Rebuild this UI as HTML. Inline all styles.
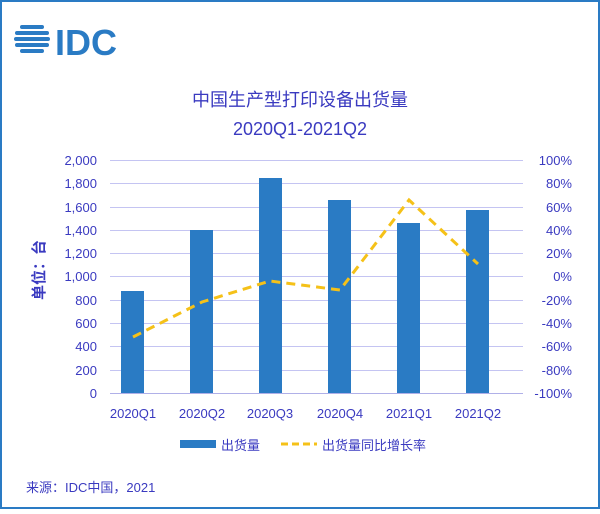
<!DOCTYPE html>
<html><head><meta charset="utf-8"><style>
body{margin:0;background:#fff}
</style></head><body>
<svg width="600" height="509" xmlns="http://www.w3.org/2000/svg" font-family="Liberation Sans, Noto Sans CJK SC, sans-serif">
<rect x="1" y="1" width="598" height="507" fill="#fff" stroke="#2a7bc4" stroke-width="2"/>
<g fill="#2a7bc4">
<rect x="20" y="25" width="24" height="4" rx="2"/>
<rect x="15" y="31" width="34" height="4" rx="2"/>
<rect x="14" y="37" width="36" height="4" rx="2"/>
<rect x="15" y="43" width="34" height="4" rx="2"/>
<rect x="20" y="49" width="24" height="4" rx="2"/>
</g>
<text x="55" y="55" font-size="36" font-weight="bold" fill="#2a7bc4">IDC</text>
<text x="300" y="106" text-anchor="middle" font-size="18" fill="#3a3ac0">中国生产型打印设备出货量</text>
<text x="300" y="135" text-anchor="middle" font-size="18" fill="#3a3ac0">2020Q1-2021Q2</text>
<g stroke="#c4c4f2" stroke-width="1">
<line x1="110" x2="523" y1="160.5" y2="160.5"/><line x1="110" x2="523" y1="183.5" y2="183.5"/>
<line x1="110" x2="523" y1="207.5" y2="207.5"/><line x1="110" x2="523" y1="230.5" y2="230.5"/>
<line x1="110" x2="523" y1="253.5" y2="253.5"/><line x1="110" x2="523" y1="276.5" y2="276.5"/>
<line x1="110" x2="523" y1="300.5" y2="300.5"/><line x1="110" x2="523" y1="323.5" y2="323.5"/>
<line x1="110" x2="523" y1="346.5" y2="346.5"/><line x1="110" x2="523" y1="370.5" y2="370.5"/>
<line x1="110" x2="523" y1="393.5" y2="393.5" stroke="#b0b0e8"/>
</g>
<g font-size="13" fill="#3a3ac0" text-anchor="end">
<text x="97" y="165">2,000</text><text x="97" y="188">1,800</text><text x="97" y="212">1,600</text>
<text x="97" y="235">1,400</text><text x="97" y="258">1,200</text><text x="97" y="281">1,000</text>
<text x="97" y="305">800</text><text x="97" y="328">600</text><text x="97" y="351">400</text>
<text x="97" y="375">200</text><text x="97" y="398">0</text>
</g>
<g font-size="13" fill="#3a3ac0" text-anchor="end">
<text x="572" y="165">100%</text><text x="572" y="188">80%</text><text x="572" y="212">60%</text>
<text x="572" y="235">40%</text><text x="572" y="258">20%</text><text x="572" y="281">0%</text>
<text x="572" y="305">-20%</text><text x="572" y="328">-40%</text><text x="572" y="351">-60%</text>
<text x="572" y="375">-80%</text><text x="572" y="398">-100%</text>
</g>
<text transform="translate(44,270) rotate(-90)" text-anchor="middle" font-size="15" font-weight="bold" fill="#3a3ac0">单位：台</text>
<g fill="#2a7bc4">
<rect x="121" y="291" width="23" height="102"/>
<rect x="190" y="230" width="23" height="163"/>
<rect x="259" y="178" width="23" height="215"/>
<rect x="328" y="200" width="23" height="193"/>
<rect x="397" y="223" width="23" height="170"/>
<rect x="466" y="210" width="23" height="183"/>
</g>
<polyline points="133,337 202,302 270,281 340,290 409,200 478,264" fill="none" stroke="#f5c118" stroke-width="3" stroke-dasharray="9,6"/>
<g font-size="13" fill="#3a3ac0" text-anchor="middle">
<text x="133" y="418">2020Q1</text><text x="202" y="418">2020Q2</text><text x="270" y="418">2020Q3</text>
<text x="340" y="418">2020Q4</text><text x="409" y="418">2021Q1</text><text x="478" y="418">2021Q2</text>
</g>
<rect x="180" y="440" width="36" height="8" fill="#2a7bc4"/>
<text x="221" y="450" font-size="13" fill="#3a3ac0">出货量</text>
<line x1="281" y1="444" x2="317" y2="444" stroke="#f5c118" stroke-width="3" stroke-dasharray="7,4"/>
<text x="322" y="450" font-size="13" fill="#3a3ac0">出货量同比增长率</text>
<text x="26" y="492" font-size="13" fill="#3a3ac0">来源：IDC中国，2021</text>
</svg>
</body></html>
